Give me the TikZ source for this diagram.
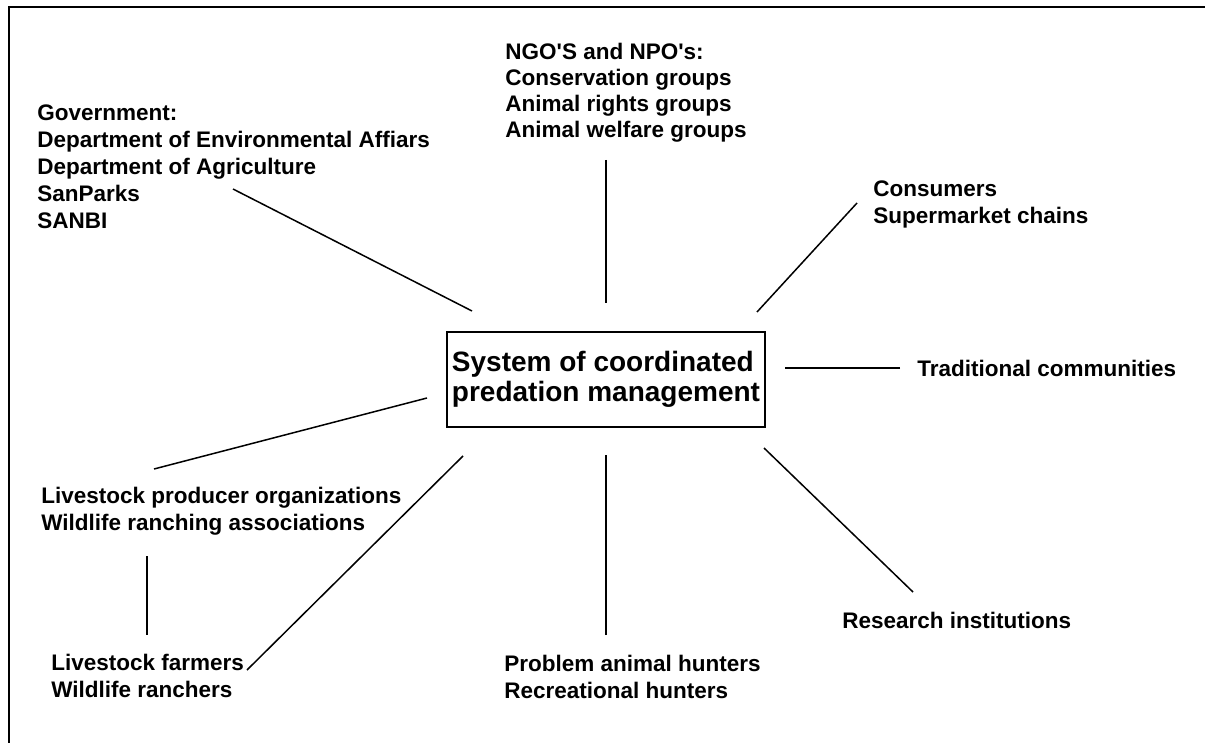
\documentclass[tikz,border=0pt]{standalone}
\usepackage{fontspec}
\setmainfont{Liberation Sans}
\tikzset{
  lbl/.style={anchor=base west,inner sep=0pt,align=left,font=\fontsize{11.25}{13.5}\selectfont\bfseries}, % stakeholder group, placed by its last line
  hubbox/.style={draw=black,line width=1pt,inner sep=0pt,minimum width=159pt,minimum height=47.5pt,
    align=left,font=\fontsize{14}{15}\selectfont\bfseries},                                        % central system
  link/.style={black,line width=0.75pt},
  frame/.style={black,line width=1pt},
}

\begin{document}
\begin{tikzpicture}[x=0.5pt,y=-0.5pt]
  \useasboundingbox (0,0) rectangle (1205,743);
  \draw[frame] (9,743) -- (9,7) -- (1205,7);
  \node[hubbox] (hub) at (606,379.5) {System of coordinated\\predation management};
  \node[lbl] (gov) at (37,229) {Government:\\Department of Environmental Affiars\\Department of Agriculture\\SanParks\\SANBI};
  \node[lbl,font=\fontsize{11.25}{13}\selectfont\bfseries] (ngo) at (505,138)
    {NGO\textquotesingle S and NPO\textquotesingle s:\\Conservation groups\\Animal rights groups\\Animal welfare groups};
  \node[lbl] (cons) at (873,224) {Consumers\\Supermarket chains};
  \node[lbl] (trad) at (917,376) {Traditional communities};
  \node[lbl] (res) at (842,628) {Research institutions};
  \node[lbl] (hunt) at (504,698) {Problem animal hunters\\Recreational hunters};
  \node[lbl] (farm) at (51,697) {Livestock farmers\\Wildlife ranchers};
  \node[lbl] (org) at (41,530) {Livestock producer organizations\\Wildlife ranching associations};
  % line ends
  \coordinate (gov-a) at (233,189);  \coordinate (gov-b) at (472,311);
  \coordinate (ngo-a) at (606,160);  \coordinate (ngo-b) at (606,303);
  \coordinate (cons-a) at (857,203); \coordinate (cons-b) at (757,312);
  \coordinate (trad-a) at (900,368); \coordinate (trad-b) at (785,368);
  \coordinate (res-a) at (913,592);  \coordinate (res-b) at (764,448);
  \coordinate (hunt-a) at (606,635); \coordinate (hunt-b) at (606,455);
  \coordinate (farm-a) at (247,670); \coordinate (farm-b) at (463,456);
  \coordinate (org-a) at (154,469);  \coordinate (org-b) at (427,398);
  \coordinate (orgf-a) at (147,556); \coordinate (orgf-b) at (147,635);
  \foreach \s in {gov,ngo,cons,trad,res,hunt,farm,org,orgf}
    \draw[link] (\s-a) -- (\s-b);
\end{tikzpicture}
\end{document}
